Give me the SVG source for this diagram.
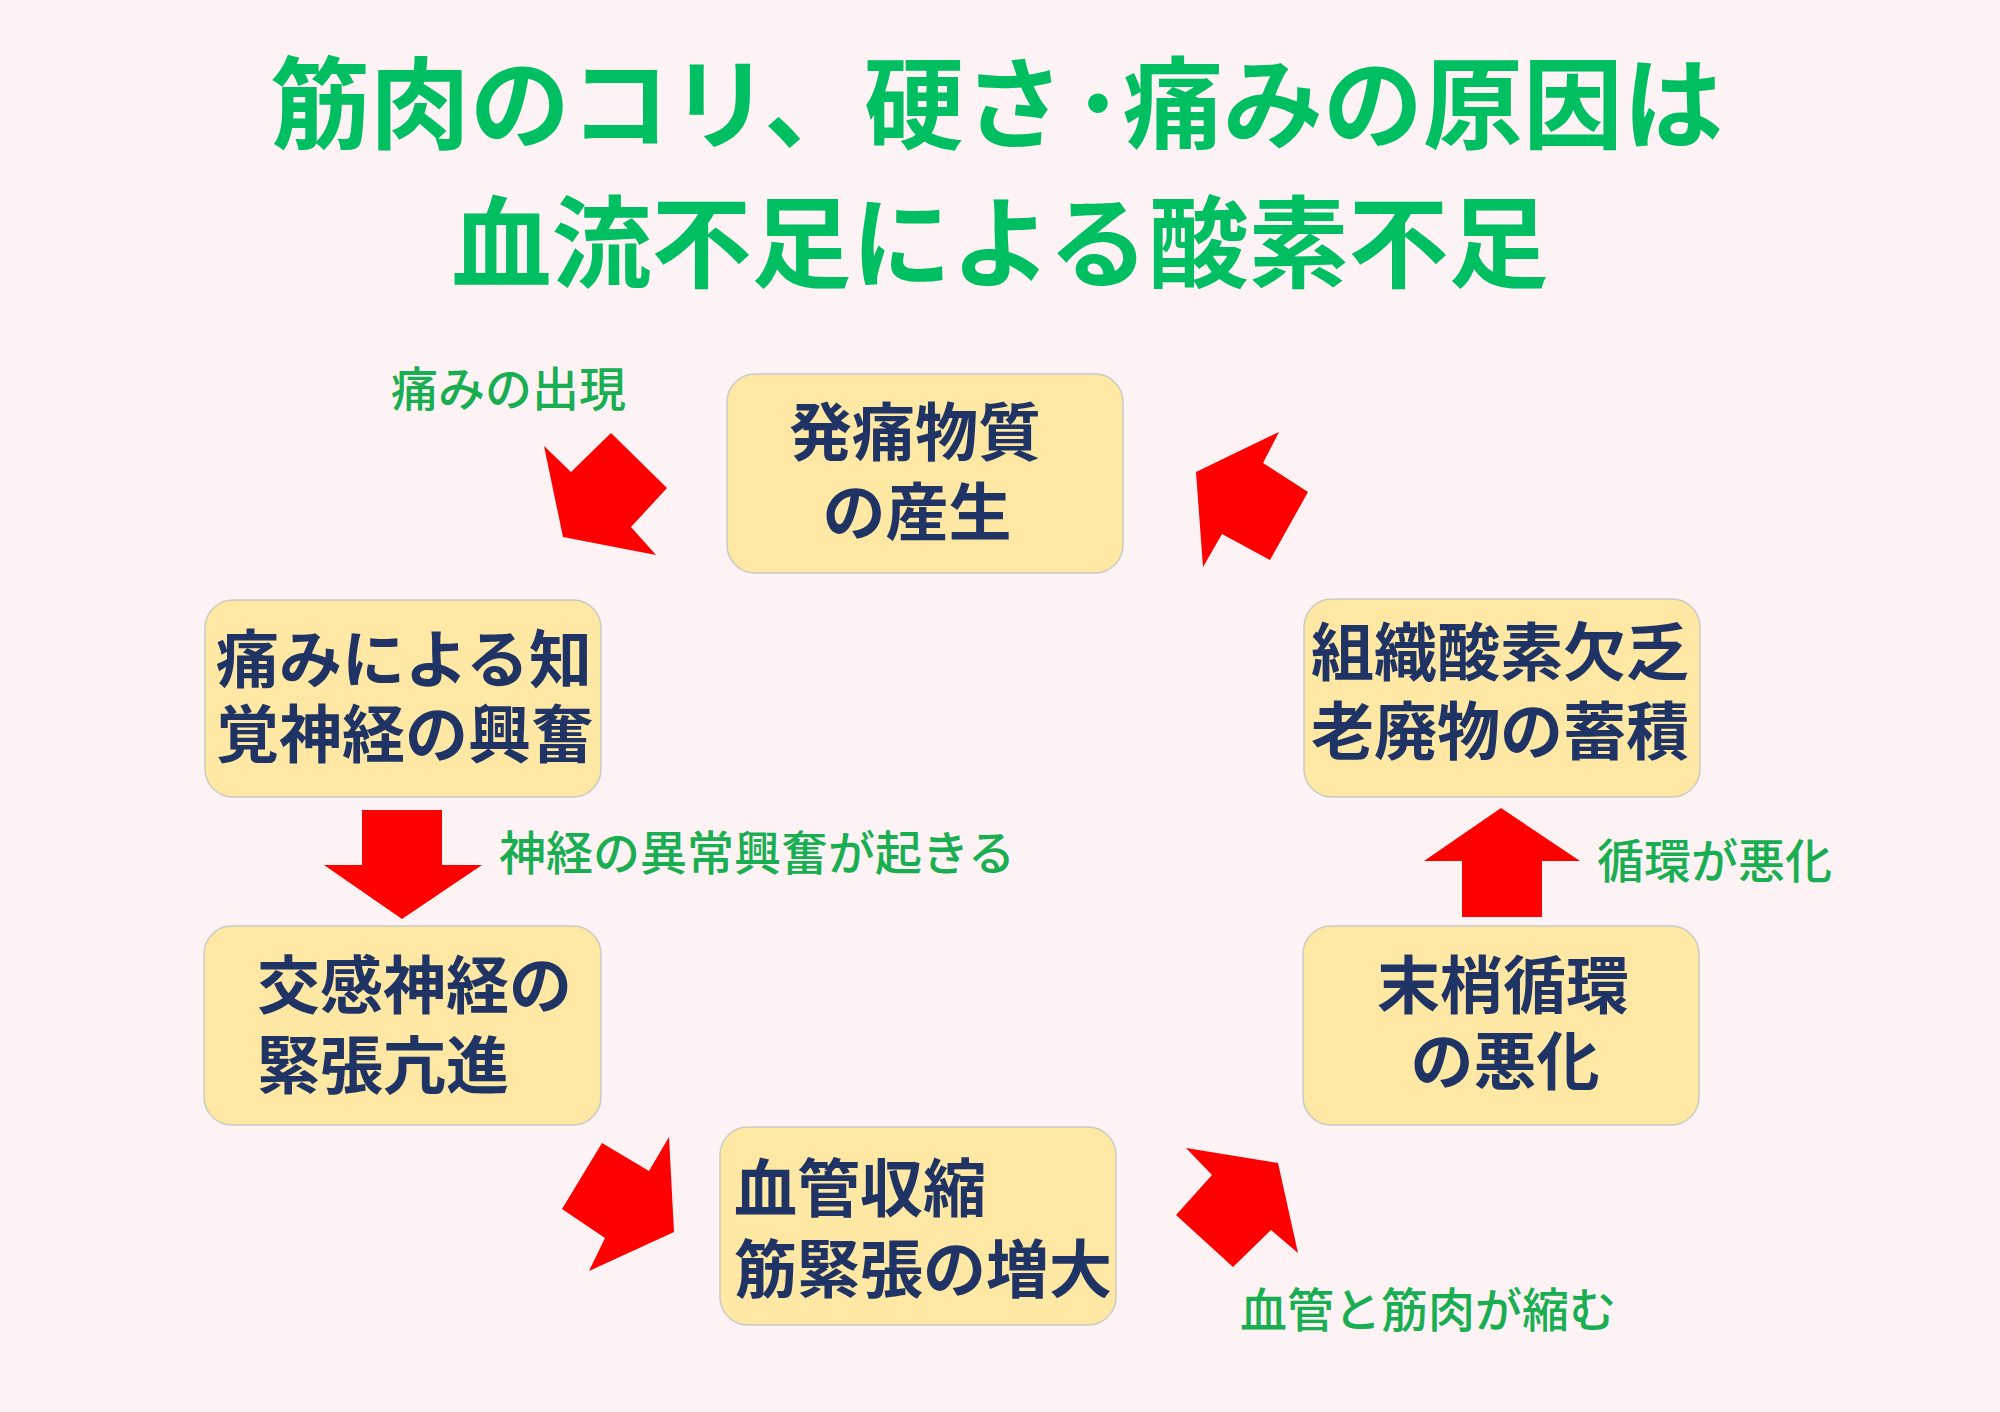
<svg xmlns="http://www.w3.org/2000/svg" width="2000" height="1412" viewBox="0 0 2000 1412">
  <style>
    .title { font-family: "Noto Sans CJK JP", "Noto Sans CJK SC", sans-serif; font-weight: 700; font-size: 100px; fill: #00BE62; }
    .box { fill: #FEE8A3; stroke: #C9CCC6; stroke-width: 1.5; }
    .btxt { font-family: "Noto Sans CJK JP", "Noto Sans CJK SC", sans-serif; font-weight: 700; font-size: 63px; fill: #1F3464; }
    .lbl { font-family: "Noto Sans CJK JP", "Noto Sans CJK SC", sans-serif; font-weight: 500; font-size: 47px; fill: #1AAE52; }
    .arrow { fill: #FF0000; }
  </style>
  <rect x="0" y="0" width="2000" height="1412" fill="#FDF3F5"/>

  <g id="title">
    <text class="title" x="270" y="141">筋肉のコリ、硬さ<tspan dx="9">･</tspan>痛みの原因は</text>
    <text class="title" x="1000" y="280" text-anchor="middle">血流不足による酸素不足</text>
  </g>

  <g id="node-hatsutsu">
    <rect class="box" x="727" y="374" width="396" height="199" rx="28"/>
    <text class="btxt" text-anchor="middle"><tspan x="915" y="455">発痛物質</tspan><tspan x="917" y="535">の産生</tspan></text>
  </g>

  <g id="node-itami">
    <rect class="box" x="205" y="600" width="396" height="197" rx="28"/>
    <text class="btxt"><tspan x="216" y="682">痛みによる知</tspan><tspan x="216" y="757">覚神経の興奮</tspan></text>
  </g>

  <g id="node-koukan">
    <rect class="box" x="204" y="926" width="397" height="199" rx="28"/>
    <text class="btxt"><tspan x="257" y="1008">交感神経の</tspan><tspan x="257" y="1088">緊張亢進</tspan></text>
  </g>

  <g id="node-kekkan">
    <rect class="box" x="720" y="1127" width="396" height="198" rx="28"/>
    <text class="btxt"><tspan x="734" y="1211">血管収縮</tspan><tspan x="734" y="1292">筋緊張の増大</tspan></text>
  </g>

  <g id="node-masshou">
    <rect class="box" x="1303" y="926" width="396" height="199" rx="28"/>
    <text class="btxt" text-anchor="middle"><tspan x="1503" y="1008">末梢循環</tspan><tspan x="1505" y="1084">の悪化</tspan></text>
  </g>

  <g id="node-soshiki">
    <rect class="box" x="1304" y="599" width="396" height="198" rx="28"/>
    <text class="btxt"><tspan x="1311" y="675">組織酸素欠乏</tspan><tspan x="1311" y="754">老廃物の蓄積</tspan></text>
  </g>

  <g id="connectors">
    <polygon class="arrow" points="544,446 571,472 611,433 667,488 631,527 656,555 563,537"/>
    <polygon class="arrow" points="1279,432 1263,463 1308,492 1270,560 1222,534 1203,567 1196,472"/>
    <polygon class="arrow" points="362,810 442,810 442,865 482,865 402,919 324,865 362,865"/>
    <polygon class="arrow" points="602,1143 649,1171 669,1137 674,1232 589,1271 605,1238 562,1209"/>
    <polygon class="arrow" points="1186,1148 1278,1163 1298,1253 1271,1230 1233,1267 1176,1215 1212,1175"/>
    <polygon class="arrow" points="1462,917 1542,917 1542,861 1580,861 1501,808 1424,861 1462,861"/>
  </g>

  <g id="labels">
    <text class="lbl" x="391" y="406">痛みの出現</text>
    <text class="lbl" x="499" y="870">神経の異常興奮が起きる</text>
    <text class="lbl" x="1597" y="878">循環が悪化</text>
    <text class="lbl" x="1240" y="1327">血管と筋肉が縮む</text>
  </g>
</svg>
